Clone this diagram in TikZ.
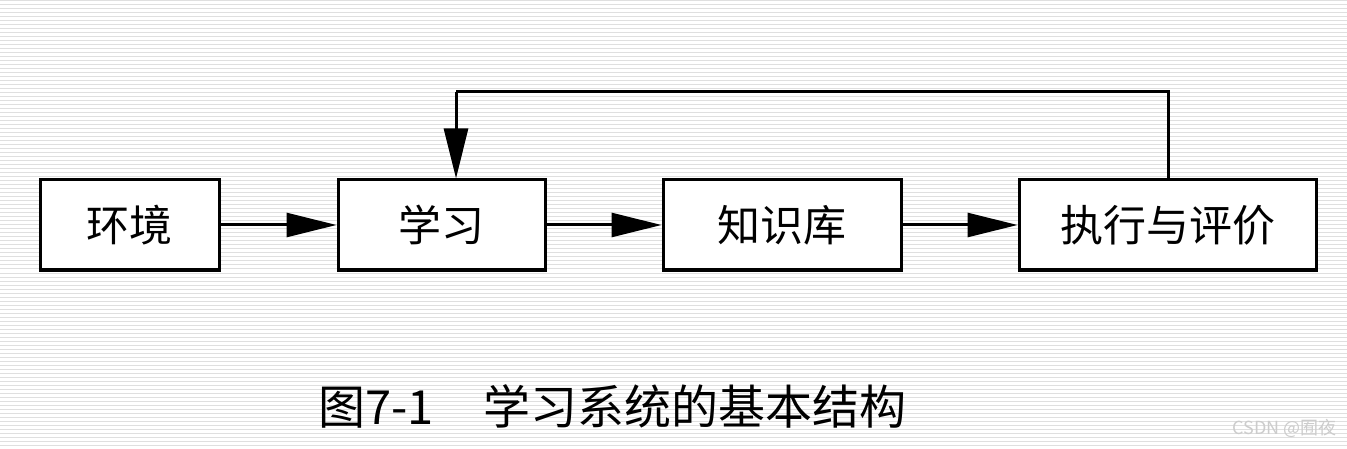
\documentclass[tikz,border=0pt]{standalone}
\usepackage{fontspec}
\newfontfamily\cjk{Noto Sans CJK SC}
\usetikzlibrary{arrows.meta}
\begin{document}
\begin{tikzpicture}[x=1pt,y=-1pt,
  blk/.style={draw,line width=3pt,minimum height=90pt,inner sep=0pt,font=\cjk\fontsize{43}{45}\selectfont},
  arr/.style={line width=3pt,-{Triangle[length=50pt,width=24pt]}}]
\useasboundingbox (0,0) rectangle (1347,449);
\fill[white] (0,0) rectangle (1347,449);
\foreach \i in {0,...,112} \draw[gray!25,line width=1pt] (0,{\i*4+1}) -- (1347,{\i*4+1});
\node[blk,fill=white,minimum width=179pt] (env) at (129.5,225) {环境};
\node[blk,fill=white,minimum width=207pt] (learn) at (441.5,225) {学习};
\node[blk,fill=white,minimum width=238pt] (kb) at (782,225) {知识库};
\node[blk,fill=white,minimum width=297pt] (exe) at (1167.5,225) {执行与评价};
\draw[arr] (env) -- (learn);
\draw[arr] (learn) -- (kb);
\draw[arr] (kb) -- (exe);
\coordinate (c1) at (1168,92);
\coordinate (c2) at (456,92);
\draw[line width=3pt] (exe.north -| c1) -- (c1) -- (c2);
\draw[arr] (c2) -- (learn.north -| c2);
\node[font=\cjk\fontsize{47}{49}\selectfont,anchor=west,inner sep=0pt] (cap) at (318,406) {图7-1\hspace{50pt}学习系统的基本结构};
\node[font=\cjk\fontsize{18}{20}\selectfont,text=gray!40,anchor=east] (wm) at (1340,428) {CSDN @囿夜};
\end{tikzpicture}
\end{document}
